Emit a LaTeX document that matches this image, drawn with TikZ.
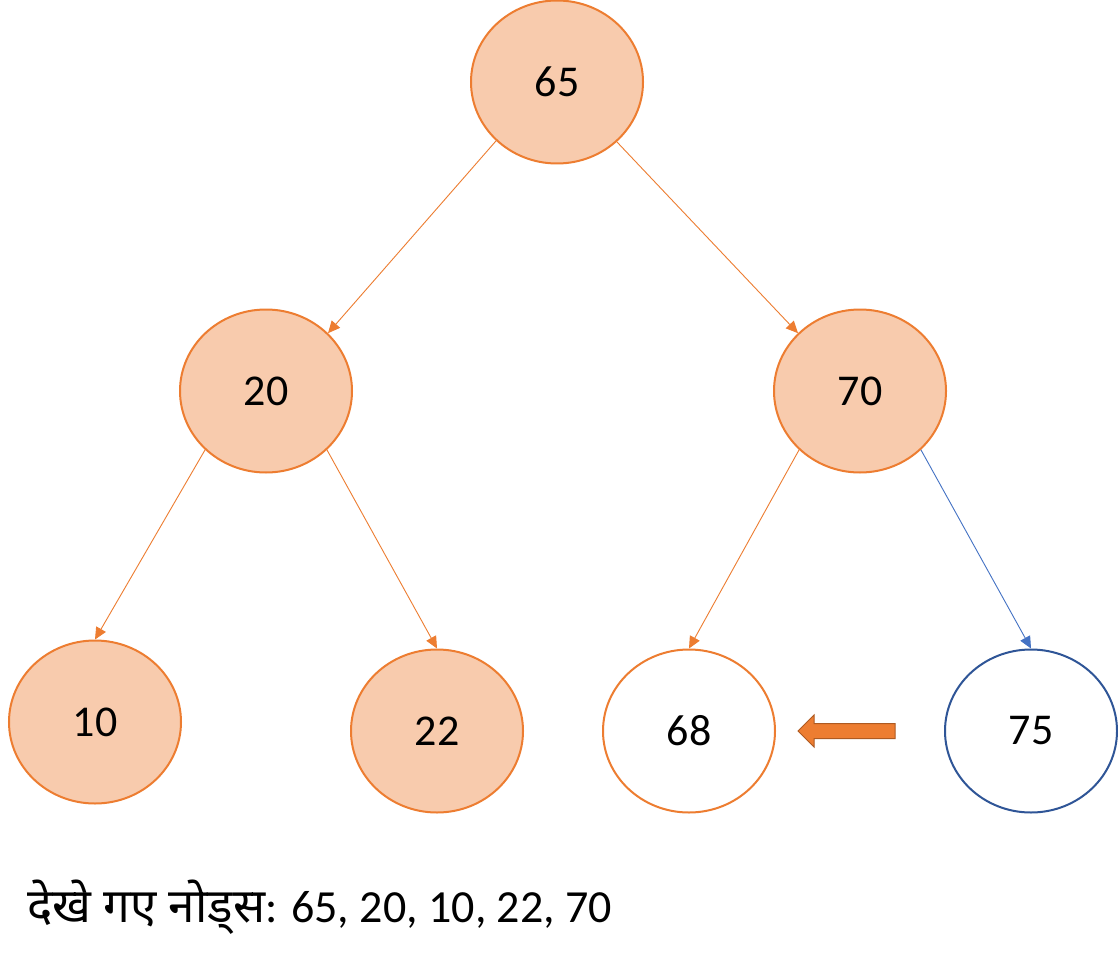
\documentclass[tikz,border=0pt]{standalone}
\usepackage{fontspec}
\setmainfont{Carlito}
\newfontfamily\deva[Script=Devanagari]{Noto Sans}
\usetikzlibrary{shapes.geometric,arrows.meta}
\definecolor{fillor}{HTML}{F8CBAD}
\definecolor{bordor}{HTML}{ED7D31}
\definecolor{edgeblue}{HTML}{4472C4}
\definecolor{bordblue}{HTML}{2F5597}
\definecolor{arrowbord}{HTML}{AE5A21}
\tikzset{
  treenode/.style={ellipse, draw=bordor, line width=2pt, minimum width=172pt, minimum height=163pt, inner sep=0pt, font=\fontsize{44}{50}\selectfont},
  visited/.style={treenode, fill=fillor},
  plainnode/.style={treenode, fill=white},
  bluenode/.style={treenode, fill=white, draw=bordblue},
  edge/.style={draw=bordor, line width=0.9pt, -{Triangle[length=12pt,width=11pt]}},
  blueedge/.style={edge, draw=edgeblue}
}
\begin{document}
\begin{tikzpicture}[x=1pt,y=-1pt]
\useasboundingbox (0,0) rectangle (1118,960);
\fill[white] (0,0) rectangle (1118,960);
\node[visited] (n65) at (557,82) {65};
\node[visited] (n20) at (266,391) {20};
\node[visited] (n70) at (860,391) {70};
\node[visited] (n10) at (95,722) {10};
\node[visited] (n22) at (437,731) {22};
\node[plainnode] (n68) at (689,731) {68};
\node[bluenode] (n75) at (1031,731) {75};
\draw[edge] (n65.224) -- (n20.43);
\draw[edge] (n65.315) -- (n70.137);
\draw[edge] (n20.224) -- (n10.90);
\draw[edge] (n20.316) -- (n22.90);
\draw[edge] (n70.224) -- (n68.90);
\draw[blueedge] (n70.316) -- (n75.90);
\filldraw[fill=bordor, draw=arrowbord, line width=1pt, line join=miter]
  (798,731) -- (814,715) -- (814,723.5) -- (895,723.5) -- (895,738.5) -- (814,738.5) -- (814,747) -- cycle;
\node[anchor=base west, inner sep=0pt, font=\fontsize{46}{52}\selectfont] (caption) at (27,922)
  {{\deva\fontsize{47.5}{52}\selectfont देखे गए नोड्स}: 65, 20, 10, 22, 70};
\end{tikzpicture}
\end{document}
